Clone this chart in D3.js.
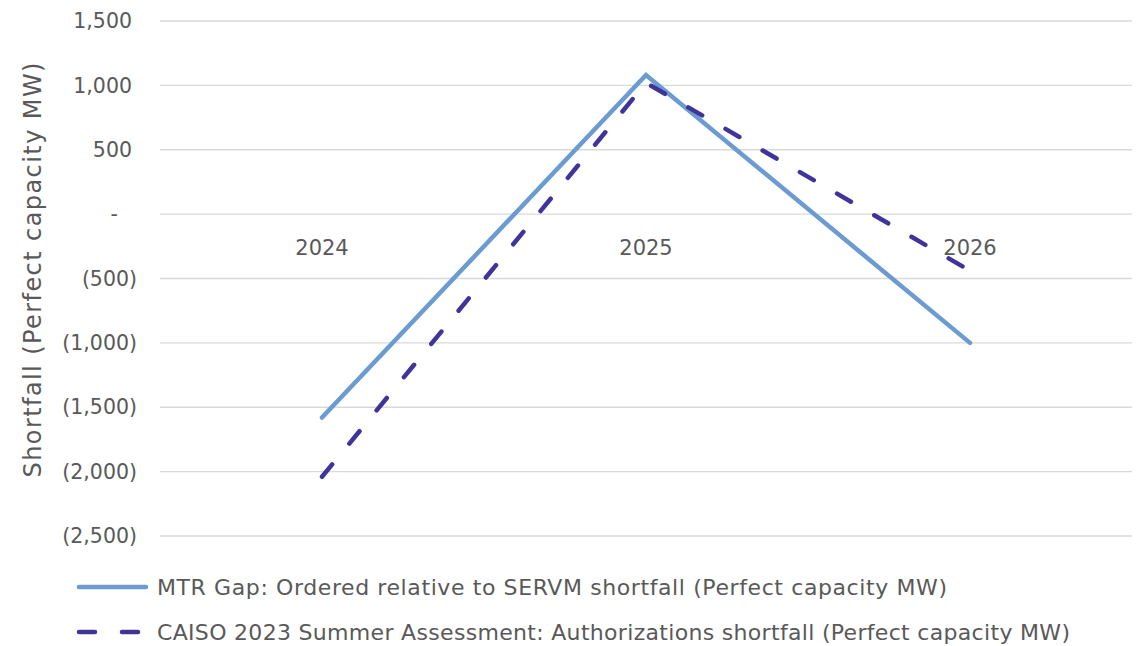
<!DOCTYPE html>
<meta charset="utf-8">
<style>
body { margin: 0; background: #fff; }
text { font-family: "Century Gothic", "DejaVu Sans", sans-serif; fill: #595959; }
.grid line { stroke: #d9d9d9; stroke-width: 1.3; }
</style>
<svg width="1142" height="646"></svg>
<script src="https://d3js.org/d3.v7.min.js"></script>
<script>

var years = ["2024", "2025", "2026"];
var mtrGap = [-1580, 1080, -1000];
var caisoGap = [-2040, 1020, -440];
var yTicks = [1500, 1000, 500, 0, -500, -1000, -1500, -2000, -2500];
var seriesNames = [
  "MTR Gap: Ordered relative to SERVM shortfall (Perfect capacity MW)",
  "CAISO 2023 Summer Assessment: Authorizations shortfall (Perfect capacity MW)"
];

var svg = d3.select("svg"),
    margin = {top: 21, right: 10, bottom: 110, left: 160},
    width = +svg.attr("width") - margin.left - margin.right,
    height = +svg.attr("height") - margin.top - margin.bottom;

var g = svg.append("g").attr("transform", "translate(" + margin.left + "," + margin.top + ")");

var x = d3.scaleBand().domain(years).range([0, width]).padding(0);
var y = d3.scaleLinear().domain([-2500, 1500]).range([height, 0]);

var fmt = d3.format(",");
function label(v) {
  if (v === 0) return "-";
  return v < 0 ? "(" + fmt(-v) + ")" : fmt(v);
}

// gridlines
g.append("g").attr("class", "grid")
  .selectAll("line").data(yTicks).enter().append("line")
    .attr("x1", 0).attr("x2", width)
    .attr("y1", function(d) { return y(d); })
    .attr("y2", function(d) { return y(d); });

// y tick labels (excel style, positives padded for the paren)
g.append("g").selectAll("text").data(yTicks).enter().append("text")
    .attr("x", function(d) { return d < 0 ? -23 : (d === 0 ? -42 : -28); })
    .attr("y", function(d) { return y(d); })
    .attr("dy", "0.35em")
    .attr("text-anchor", "end")
    .style("font-size", "20.5px")
    .text(label);

// category labels under the zero line
g.append("g").selectAll("text").data(years).enter().append("text")
    .attr("x", function(d) { return x(d) + x.bandwidth() / 2; })
    .attr("y", y(0) + 41)
    .attr("text-anchor", "middle")
    .style("font-size", "21px")
    .text(function(d) { return d; });

// axis title
svg.append("text")
    .attr("transform", "translate(41,270) rotate(-90)")
    .attr("text-anchor", "middle")
    .attr("textLength", 415)
    .attr("lengthAdjust", "spacing")
    .style("font-size", "24px")
    .text("Shortfall (Perfect capacity MW)");

var line = d3.line()
    .x(function(d, i) { return x(years[i]) + x.bandwidth() / 2; })
    .y(function(d) { return y(d); });

g.append("path").datum(mtrGap)
    .attr("d", line)
    .attr("fill", "none")
    .attr("stroke", "#6b9bd0")
    .attr("stroke-width", 4.5)
    .attr("stroke-linecap", "round");

g.append("path").datum(caisoGap)
    .attr("d", line)
    .attr("fill", "none")
    .attr("stroke", "#40349a")
    .attr("stroke-width", 4.5)
    .attr("stroke-linecap", "round")
    .attr("stroke-dasharray", "16,27");

// legend
var legend = svg.append("g");
var legY = [587, 632];
var legLen = [790, 913];
legend.append("line")
    .attr("x1", 79).attr("x2", 146).attr("y1", legY[0]).attr("y2", legY[0])
    .attr("stroke", "#6b9bd0").attr("stroke-width", 4.5).attr("stroke-linecap", "round");
legend.append("line")
    .attr("x1", 79).attr("x2", 146).attr("y1", legY[1]).attr("y2", legY[1])
    .attr("stroke", "#40349a").attr("stroke-width", 4.5).attr("stroke-linecap", "round")
    .attr("stroke-dasharray", "16,27");
legend.selectAll("text.leg").data(seriesNames).enter().append("text")
    .attr("class", "leg")
    .attr("x", 157)
    .attr("y", function(d, i) { return legY[i]; })
    .attr("dy", "0.35em")
    .attr("textLength", function(d, i) { return legLen[i]; })
    .attr("lengthAdjust", "spacing")
    .style("font-size", "22px")
    .text(function(d) { return d; });

</script>
